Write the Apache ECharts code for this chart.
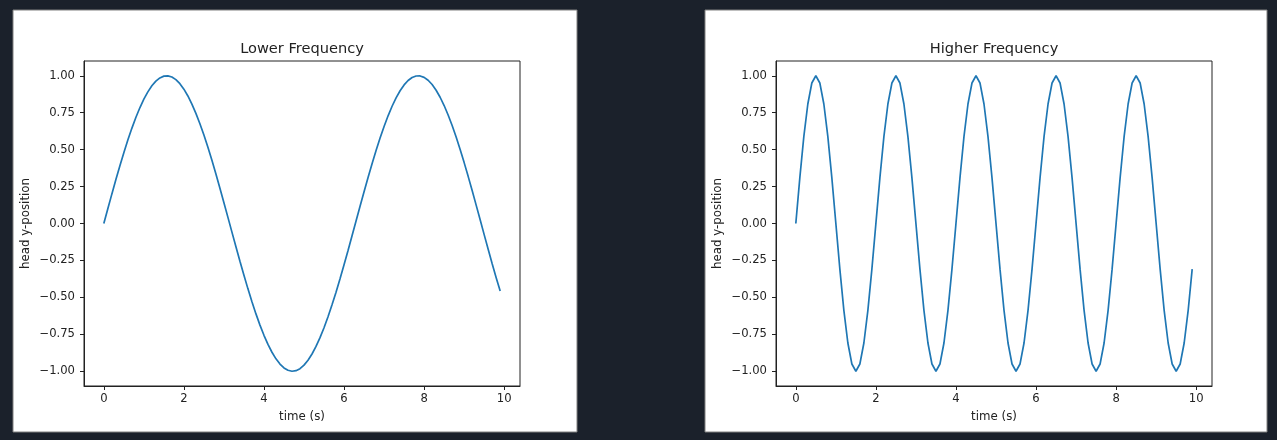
<!DOCTYPE html>
<html><head><meta charset="utf-8">
<script src="https://cdn.jsdelivr.net/npm/echarts@6/dist/echarts.min.js"></script>
<style>html,body{margin:0;padding:0;background:#1b212b;}#c{width:1277px;height:440px;}</style>
</head><body><div id="c"></div>
<script>
const times = [0,0.1,0.2,0.3,0.4,0.5,0.6,0.7,0.8,0.9,1,1.1,1.2,1.3,1.4,1.5,1.6,1.7,1.8,1.9,2,2.1,2.2,2.3,2.4,2.5,2.6,2.7,2.8,2.9,3,3.1,3.2,3.3,3.4,3.5,3.6,3.7,3.8,3.9,4,4.1,4.2,4.3,4.4,4.5,4.6,4.7,4.8,4.9,5,5.1,5.2,5.3,5.4,5.5,5.6,5.7,5.8,5.9,6,6.1,6.2,6.3,6.4,6.5,6.6,6.7,6.8,6.9,7,7.1,7.2,7.3,7.4,7.5,7.6,7.7,7.8,7.9,8,8.1,8.2,8.3,8.4,8.5,8.6,8.7,8.8,8.9,9,9.1,9.2,9.3,9.4,9.5,9.6,9.7,9.8,9.9];
const lowFreq = [0,0.0998,0.1987,0.2955,0.3894,0.4794,0.5646,0.6442,0.7174,0.7833,0.8415,0.8912,0.932,0.9636,0.9854,0.9975,0.9996,0.9917,0.9738,0.9463,0.9093,0.8632,0.8085,0.7457,0.6755,0.5985,0.5155,0.4274,0.335,0.2392,0.1411,0.0416,-0.0584,-0.1577,-0.2555,-0.3508,-0.4425,-0.5298,-0.6119,-0.6878,-0.7568,-0.8183,-0.8716,-0.9162,-0.9516,-0.9775,-0.9937,-1.0,-0.9962,-0.9825,-0.9589,-0.9258,-0.8835,-0.8323,-0.7728,-0.7055,-0.6313,-0.5507,-0.4646,-0.3739,-0.2794,-0.1822,-0.0831,0.0168,0.1165,0.2151,0.3115,0.4048,0.4941,0.5784,0.657,0.729,0.7937,0.8504,0.8987,0.938,0.9679,0.9882,0.9985,0.9989,0.9894,0.9699,0.9407,0.9022,0.8546,0.7985,0.7344,0.663,0.5849,0.501,0.4121,0.3191,0.2229,0.1245,0.0248,-0.0752,-0.1743,-0.2718,-0.3665,-0.4575];
const highFreq = [0,0.309,0.588,0.809,0.951,1,0.951,0.809,0.588,0.309,0,-0.309,-0.588,-0.809,-0.951,-1,-0.951,-0.809,-0.588,-0.309,
0,0.309,0.588,0.809,0.951,1,0.951,0.809,0.588,0.309,0,-0.309,-0.588,-0.809,-0.951,-1,-0.951,-0.809,-0.588,-0.309,
0,0.309,0.588,0.809,0.951,1,0.951,0.809,0.588,0.309,0,-0.309,-0.588,-0.809,-0.951,-1,-0.951,-0.809,-0.588,-0.309,
0,0.309,0.588,0.809,0.951,1,0.951,0.809,0.588,0.309,0,-0.309,-0.588,-0.809,-0.951,-1,-0.951,-0.809,-0.588,-0.309,
0,0.309,0.588,0.809,0.951,1,0.951,0.809,0.588,0.309,0,-0.309,-0.588,-0.809,-0.951,-1,-0.951,-0.809,-0.588,-0.309];
const xTicks = [0,2,4,6,8,10];
const yTicks = [-1,-0.75,-0.5,-0.25,0,0.25,0.5,0.75,1];
const titles = ['Lower Frequency','Higher Frequency'];
const xName = 'time (s)';
const yName = 'head y-position';

const FONT = 'DejaVu Sans';
const TXT = '#222';
const panels = [{x:13,w:564},{x:705,w:562}];
const grids = [{left:84,top:61,width:436,height:325},{left:776,top:61,width:436,height:325}];
const fmtY = v => v.toFixed(2).replace('-', '\u2212');

const chart = echarts.init(document.getElementById('c'), null, {renderer:'canvas'});
const xAxes = [], yAxes = [], series = [], titleArr = [];
[lowFreq, highFreq].forEach((vals, i) => {
  xAxes.push({
    type:'value', gridIndex:i, min:-0.495, max:10.395,
    name:xName, nameLocation:'middle', nameGap:25,
    nameTextStyle:{fontFamily:FONT, fontSize:11.8, color:TXT},
    axisLine:{show:true, onZero:false, lineStyle:{color:'#222', width:1}},
    axisTick:{show:true, length:4, customValues:xTicks, lineStyle:{color:'#222'}},
    axisLabel:{customValues:xTicks, fontFamily:FONT, fontSize:11.6, color:TXT, margin:7},
    splitLine:{show:false}
  });
  yAxes.push({
    type:'value', gridIndex:i, min:-1.1, max:1.1,
    name:yName, nameLocation:'middle', nameGap:52, nameRotate:90,
    nameTextStyle:{fontFamily:FONT, fontSize:11.8, color:TXT},
    axisLine:{show:true, onZero:false, lineStyle:{color:'#222', width:1}},
    axisTick:{show:true, length:4, customValues:yTicks, lineStyle:{color:'#222'}},
    axisLabel:{customValues:yTicks, formatter:fmtY, fontFamily:FONT, fontSize:11.6, color:TXT, margin:9},
    splitLine:{show:false}
  });
  series.push({
    type:'line', xAxisIndex:i, yAxisIndex:i, showSymbol:false, symbol:'none',
    data: times.map((t,k)=>[t, vals[k]]),
    lineStyle:{color:'#1f77b4', width:1.7}, animation:false
  });
  titleArr.push({
    text:titles[i], left:grids[i].left + grids[i].width/2 - 5, top:37, textAlign:'center',
    textStyle:{fontFamily:FONT, fontSize:14.6, fontWeight:'normal', color:TXT}
  });
});

chart.setOption({
  backgroundColor:'#1b212b',
  animation:false,
  title:titleArr,
  graphic: panels.map(p => ({type:'rect', z:-10, shape:{x:p.x, y:10, width:p.w, height:422},
    style:{fill:'#ffffff', stroke:'#808080', lineWidth:1}})),
  grid: grids.map(g => Object.assign({show:true, borderColor:'#222', borderWidth:1, backgroundColor:'transparent'}, g)),
  xAxis:xAxes, yAxis:yAxes, series:series
});
</script></body></html>
